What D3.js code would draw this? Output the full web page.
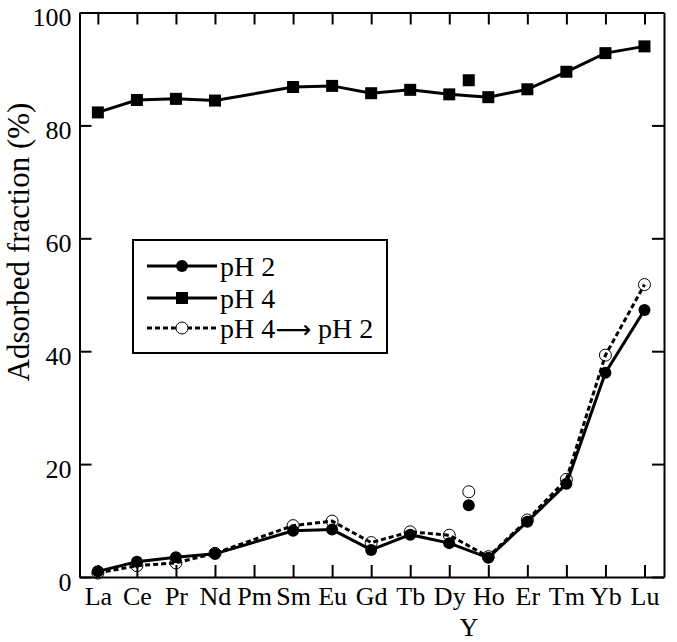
<!DOCTYPE html>
<html>
<head>
<meta charset="utf-8">
<script src="https://cdn.jsdelivr.net/npm/d3@7"></script>
<style>
  body { margin: 0; background: #fff; }
  svg { display: block; font-family: "Liberation Serif", serif; }
</style>
</head>
<body>
<svg id="chart"></svg>
<script>
// categories (lanthanides), Y sits between Dy and Ho
const cats = ['La', 'Ce', 'Pr', 'Nd', 'Pm', 'Sm', 'Eu', 'Gd', 'Tb', 'Dy', 'Ho', 'Er', 'Tm', 'Yb', 'Lu']
const ph2 = [1.0, 2.7, 3.5, 4.1, null, 8.2, 8.4, 4.8, 7.5, 6.0, 3.4, 9.8, 16.5, 36.2, 47.3]
const ph4 = [82.3, 84.5, 84.7, 84.4, null, 86.8, 87.0, 85.7, 86.3, 85.5, 85.0, 86.4, 89.5, 92.8, 94.0]
const ph4to2 = [0.7, 2.0, 2.5, 4.2, null, 9.1, 9.9, 6.1, 8.0, 7.4, 3.6, 10.1, 17.3, 39.3, 51.8]
const yCat = 'Y'
const yPos = 9.5
const yPh2 = 12.7
const yPh4 = 88.0
const yPh4to2 = 15.1
const yTicks = [0, 20, 40, 60, 80, 100]

const W = 677, H = 642
const m = {left: 79.5, right: 664, top: 12.5, bottom: 577}

const svg = d3.select('#chart').attr('width', W).attr('height', H)

const x = d3.scaleLinear().domain([-0.47, 14.5]).range([m.left, m.right])
const y = d3.scaleLinear().domain([0, 100]).range([m.bottom, m.top])

// axes, ticks pointing inward
const idx = cats.map((c, i) => i)

const gB = svg.append('g').attr('transform', `translate(0,${m.bottom})`)
  .call(d3.axisBottom(x).tickValues(idx).tickFormat(i => cats[i]).tickSizeInner(-12).tickSizeOuter(0).tickPadding(9.5))
const gT = svg.append('g').attr('transform', `translate(0,${m.top})`)
  .call(d3.axisTop(x).tickValues(idx).tickFormat('').tickSizeInner(-12).tickSizeOuter(0))
const gL = svg.append('g').attr('transform', `translate(${m.left},0)`)
  .call(d3.axisLeft(y).tickValues(yTicks).tickSizeInner(-12).tickSizeOuter(0).tickPadding(8))
const gR = svg.append('g').attr('transform', `translate(${m.right},0)`)
  .call(d3.axisRight(y).tickValues(yTicks).tickFormat('').tickSizeInner(-12).tickSizeOuter(0))

svg.selectAll('.domain').attr('stroke', '#000').attr('stroke-width', 2)
svg.selectAll('.tick line').attr('stroke', '#000').attr('stroke-width', 2)
svg.selectAll('.tick text').attr('fill', '#000').attr('font-family', 'Liberation Serif').attr('font-size', 26)
gL.selectAll('.tick text').attr('dy', '0.5em')

// Y label under Dy/Ho
svg.append('text')
  .attr('x', x(yPos)).attr('y', m.bottom + 59)
  .attr('text-anchor', 'middle').attr('font-size', 26)
  .text(yCat)

// y axis title
svg.append('text')
  .attr('transform', `translate(29,${242}) rotate(-90)`)
  .attr('text-anchor', 'middle').attr('font-size', 31)
  .text('Adsorbed fraction (%)')

// lines
const pts = arr => arr.map((v, i) => [i, v]).filter(d => d[1] != null)
const line = d3.line().x(d => x(d[0])).y(d => y(d[1]))

svg.append('path').attr('d', line(pts(ph4to2)))
  .attr('fill', 'none').attr('stroke', '#000').attr('stroke-width', 3).attr('stroke-dasharray', '5,3')
svg.append('path').attr('d', line(pts(ph2)))
  .attr('fill', 'none').attr('stroke', '#000').attr('stroke-width', 3)
svg.append('path').attr('d', line(pts(ph4)))
  .attr('fill', 'none').attr('stroke', '#000').attr('stroke-width', 3)

// markers
const sq = 12
svg.selectAll('.sq').data(pts(ph4).concat([[yPos, yPh4]])).join('rect')
  .attr('x', d => x(d[0]) - sq / 2).attr('y', d => y(d[1]) - sq / 2)
  .attr('width', sq).attr('height', sq).attr('fill', '#000')

svg.selectAll('.open').data(pts(ph4to2).concat([[yPos, yPh4to2]])).join('circle')
  .attr('cx', d => x(d[0])).attr('cy', d => y(d[1])).attr('r', 6)
  .attr('fill', 'none').attr('stroke', '#000').attr('stroke-width', 1)

svg.selectAll('.dot').data(pts(ph2).concat([[yPos, yPh2]])).join('circle')
  .attr('cx', d => x(d[0])).attr('cy', d => y(d[1])).attr('r', 6)
  .attr('fill', '#000')

// legend
const lg = svg.append('g')
lg.append('rect').attr('x', 133).attr('y', 240).attr('width', 254).attr('height', 113)
  .attr('fill', '#fff').attr('stroke', '#000').attr('stroke-width', 2)

const rows = [
  {label: 'pH 2', dash: null, mark: 'dot', cy: 266},
  {label: 'pH 4', dash: null, mark: 'sq', cy: 298},
  {label: 'pH 4', dash: '5,3', mark: 'open', cy: 328, tail: ' pH 2'}
]
rows.forEach(r => {
  lg.append('line').attr('x1', 147).attr('x2', 217).attr('y1', r.cy).attr('y2', r.cy)
    .attr('stroke', '#000').attr('stroke-width', 3).attr('stroke-dasharray', r.dash)
  if (r.mark === 'dot') lg.append('circle').attr('cx', 182).attr('cy', r.cy).attr('r', 6).attr('fill', '#000')
  if (r.mark === 'sq') lg.append('rect').attr('x', 182 - sq / 2).attr('y', r.cy - sq / 2).attr('width', sq).attr('height', sq).attr('fill', '#000')
  if (r.mark === 'open') lg.append('circle').attr('cx', 182).attr('cy', r.cy).attr('r', 6).attr('fill', '#fff').attr('stroke', '#000').attr('stroke-width', 1)
  const t = lg.append('text').attr('x', 220).attr('y', r.cy + 10).attr('font-size', 28)
  t.append('tspan').text(r.label)
  if (r.tail) {
    t.append('tspan').attr('font-family', 'DejaVu Sans').attr('font-size', 25).text('\u27F6')
    t.append('tspan').text(r.tail)
  }
})
</script>
</body>
</html>
